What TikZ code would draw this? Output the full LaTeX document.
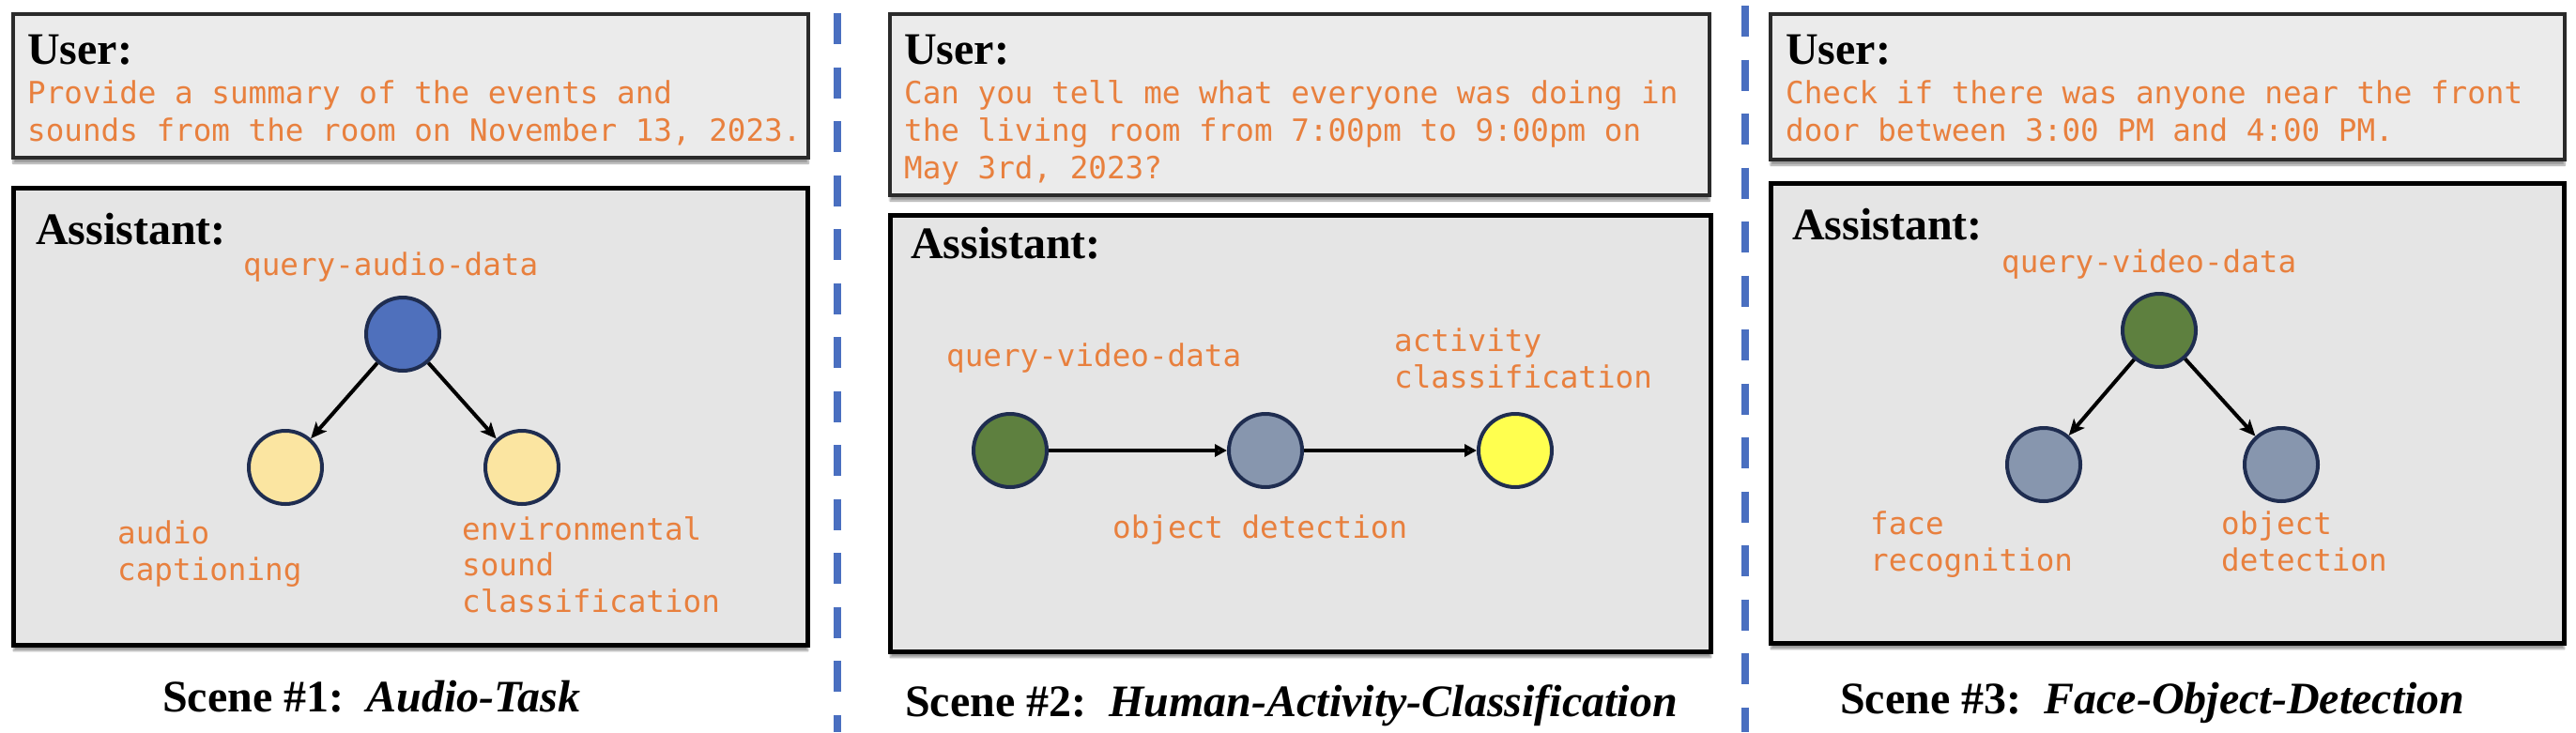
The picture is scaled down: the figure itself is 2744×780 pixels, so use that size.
\documentclass[tikz,border=0pt]{standalone}
\usepackage{fontspec}
\setmainfont{Liberation Serif}
\setmonofont{DejaVu Sans Mono}
\usetikzlibrary{arrows.meta,shadows.blur}
\definecolor{txtorange}{HTML}{E8803E}
\definecolor{sepblue}{HTML}{4A6FC0}
\definecolor{boxdark}{HTML}{2A2A2A}
\definecolor{userfill}{HTML}{EBEBEB}
\definecolor{asstfill}{HTML}{E5E5E5}
\definecolor{navy}{HTML}{1F2D50}
\definecolor{nblue}{HTML}{4F70BC}
\definecolor{nyellowl}{HTML}{FBE5A1}
\definecolor{ngreen}{HTML}{5E803F}
\definecolor{ngray}{HTML}{8796AE}
\definecolor{nyellow}{HTML}{FFFF4F}
\begin{document}
\begin{tikzpicture}[x=1pt,y=-1pt,
  userbox/.style={draw=boxdark, line width=4pt, fill=userfill,
    blur shadow={shadow xshift=0pt, shadow yshift=-6pt, shadow opacity=40, shadow blur steps=8}},
  asstbox/.style={draw=black, line width=5pt, fill=asstfill,
    blur shadow={shadow xshift=0pt, shadow yshift=-6pt, shadow opacity=40, shadow blur steps=8}},
  head/.style={font=\fontsize{48}{56}\selectfont\bfseries, inner sep=0pt, anchor=base west},
  ortext/.style={font=\fontsize{32.6}{40}\selectfont\ttfamily, text=txtorange, inner sep=0pt, anchor=base west, align=left},
  lbl/.style={font=\fontsize{32.6}{38.5}\selectfont\ttfamily, text=txtorange, inner sep=0pt, anchor=base west, align=left},
  task/.style={circle, draw=navy, line width=4pt, minimum size=78pt, inner sep=0pt},
  arr/.style={line width=4pt, -{Stealth[length=17pt,width=15pt,inset=4pt]}},
  harr/.style={line width=4pt, -{Triangle[length=13pt,width=13pt]}},
  sepline/.style={draw=sepblue, line width=8pt, dash pattern=on 33pt off 24.5pt},
  caption/.style={font=\fontsize{48}{56}\selectfont, inner sep=0pt, anchor=base west}
]
\useasboundingbox (0,0) rectangle (2744,780);

% separators
\coordinate (s1t) at (892,14);
\coordinate (s1b) at (892,780);
\coordinate (s2t) at (1859,6);
\coordinate (s2b) at (1859,780);
\draw[sepline] (s1t) -- (s1b);
\draw[sepline] (s2t) -- (s2b);

% (multi-line nodes: base anchor = baseline of the last line)
% ---------- Scene 1 ----------
\path[userbox] (14,15) rectangle (861,168);
\path[asstbox] (14.5,200.5) rectangle (860.5,687.5);
\node[head] (u1h) at (29,68) {User:};
\node[ortext] (u1t) at (29,150) {Provide a summary of the events and\\sounds from the room on November 13, 2023.};
\node[head] (a1h) at (38,260) {Assistant:};
\node[lbl] (l1q) at (259,293) {query-audio-data};
\node[task, fill=nblue] (n1) at (429,356) {};
\node[task, fill=nyellowl] (n1a) at (304,498) {};
\node[task, fill=nyellowl] (n1b) at (556,498) {};
\draw[arr] (n1) -- (n1a);
\draw[arr] (n1) -- (n1b);
\node[lbl] (l1a) at (125,618) {audio\\captioning};
\node[lbl] (l1b) at (492,652) {environmental\\sound\\classification};
\node[caption] (c1) at (173,758) {\textbf{Scene \#1:}\hspace{24pt}\textbf{\textit{Audio-Task}}};

% ---------- Scene 2 ----------
\path[userbox] (948,15) rectangle (1821,208);
\path[asstbox] (948.5,229.5) rectangle (1822.5,694.5);
\node[head] (u2h) at (963,68) {User:};
\node[ortext] (u2t) at (963,190) {Can you tell me what everyone was doing in\\the living room from 7:00pm to 9:00pm on\\May 3rd, 2023?};
\node[head] (a2h) at (970,275) {Assistant:};
\node[lbl] (l2q) at (1008,390) {query-video-data};
\node[lbl] (l2c) at (1485,413) {activity\\classification};
\node[task, fill=ngreen] (n2a) at (1076,480) {};
\node[task, fill=ngray] (n2b) at (1348,480) {};
\node[task, fill=nyellow] (n2c) at (1614,480) {};
\draw[harr] (n2a) -- (n2b);
\draw[harr] (n2b) -- (n2c);
\node[lbl] (l2o) at (1185,573) {object detection};
\node[caption] (c2) at (964,763) {\textbf{Scene \#2:}\hspace{24pt}\textbf{\textit{Human-Activity-Classification}}};

% ---------- Scene 3 ----------
\path[userbox] (1886,15) rectangle (2732,170);
\path[asstbox] (1886.5,195.5) rectangle (2731.5,685.5);
\node[head] (u3h) at (1902,68) {User:};
\node[ortext] (u3t) at (1902,150) {Check if there was anyone near the front\\door between 3:00 PM and 4:00 PM.};
\node[head] (a3h) at (1909,255) {Assistant:};
\node[lbl] (l3q) at (2132,290) {query-video-data};
\node[task, fill=ngreen] (n3) at (2300,352) {};
\node[task, fill=ngray] (n3a) at (2177,495) {};
\node[task, fill=ngray] (n3b) at (2430,495) {};
\draw[arr] (n3) -- (n3a);
\draw[arr] (n3) -- (n3b);
\node[lbl] (l3a) at (1992,608) {face\\recognition};
\node[lbl] (l3b) at (2366,608) {object\\detection};
\node[caption] (c3) at (1960,760) {\textbf{Scene \#3:}\hspace{24pt}\textbf{\textit{Face-Object-Detection}}};
\end{tikzpicture}
\end{document}
